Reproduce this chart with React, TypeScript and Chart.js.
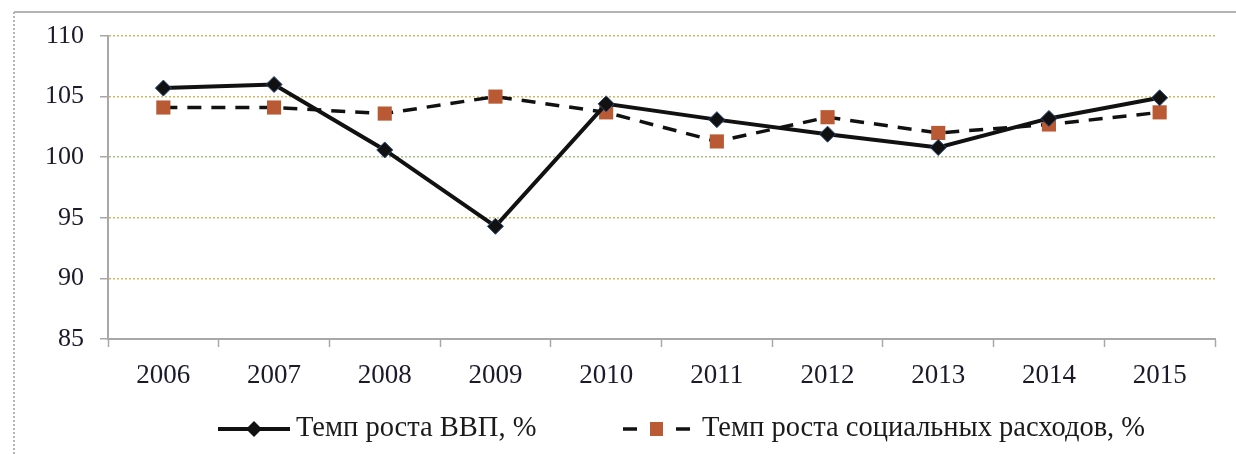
import React, { useEffect, useRef } from "react";
import { Chart, registerables } from "chart.js";

Chart.register(...registerables);

const categories = ["2006", "2007", "2008", "2009", "2010", "2011", "2012", "2013", "2014", "2015"];
const gdpGrowth = [105.7, 106.0, 100.6, 94.3, 104.4, 103.1, 101.9, 100.8, 103.2, 104.9];
const socialGrowth = [104.1, 104.1, 103.6, 105.0, 103.7, 101.3, 103.3, 102.0, 102.7, 103.7];
const gdpLabel = "Темп роста ВВП, %";
const socialLabel = "Темп роста социальных расходов, %";
const yMin = 85;
const yMax = 110;
const yStep = 5;

const FONT = "'Liberation Serif', serif";
const SQUARE = "#b95a35";

export default function App() {
  const ref = useRef<HTMLCanvasElement | null>(null);

  useEffect(() => {
    const canvas = ref.current;
    if (!canvas) return;
    let chart: any = null;
    let cancelled = false;

    const framePlugin = {
      id: "frame",
      beforeDraw(c: any) {
        const ctx = c.ctx;
        ctx.save();
        ctx.fillStyle = "#ffffff";
        ctx.fillRect(0, 0, c.width, c.height);
        ctx.strokeStyle = "#b4b4b4";
        ctx.lineWidth = 2;
        ctx.beginPath();
        ctx.moveTo(14, 12);
        ctx.lineTo(c.width, 12);
        ctx.stroke();
        ctx.setLineDash([2, 2]);
        ctx.beginPath();
        ctx.moveTo(14, 12);
        ctx.lineTo(14, c.height);
        ctx.stroke();
        ctx.restore();
      },
    };

    const legendPlugin = {
      id: "customLegend",
      afterDraw(c: any) {
        const ctx = c.ctx;
        const y = 429;
        ctx.save();
        ctx.strokeStyle = "#111111";
        ctx.lineWidth = 4;
        ctx.beginPath();
        ctx.moveTo(218, y);
        ctx.lineTo(290, y);
        ctx.stroke();
        ctx.fillStyle = "#111111";
        ctx.beginPath();
        ctx.moveTo(254 - 8, y);
        ctx.lineTo(254, y - 8);
        ctx.lineTo(254 + 8, y);
        ctx.lineTo(254, y + 8);
        ctx.closePath();
        ctx.fill();
        ctx.font = `28.5px ${FONT}`;
        ctx.textBaseline = "middle";
        ctx.textAlign = "left";
        ctx.fillStyle = "#1a1a1a";
        ctx.fillText(gdpLabel, 296, y);
        ctx.strokeStyle = "#111111";
        ctx.lineWidth = 3.5;
        ctx.beginPath();
        ctx.moveTo(623, y);
        ctx.lineTo(637, y);
        ctx.moveTo(676, y);
        ctx.lineTo(690, y);
        ctx.stroke();
        ctx.fillStyle = SQUARE;
        ctx.fillRect(650, y - 7, 13, 14);
        ctx.fillStyle = "#1a1a1a";
        ctx.fillText(socialLabel, 702, y);
        ctx.restore();
      },
    };

    const build = () => {
      if (cancelled) return;
      chart = new Chart(canvas, {
        type: "line",
        data: {
          labels: categories,
          datasets: [
            {
              label: socialLabel,
              data: socialGrowth,
              borderColor: "#111111",
              borderWidth: 3.5,
              borderDash: [14, 10],
              pointStyle: "rect",
              pointRadius: 10,
              pointBackgroundColor: SQUARE,
              pointBorderColor: SQUARE,
              pointBorderWidth: 0,
              tension: 0,
              order: 2,
            },
            {
              label: gdpLabel,
              data: gdpGrowth,
              borderColor: "#111111",
              borderWidth: 4,
              pointStyle: "rectRot",
              pointRadius: 8,
              pointBackgroundColor: "#111111",
              pointBorderColor: "#2a4a7a",
              pointBorderWidth: 1,
              tension: 0,
              order: 1,
            },
          ],
        },
        options: {
          animation: false,
          responsive: false,
          maintainAspectRatio: false,
          layout: { padding: { left: 0, right: 21, top: 36, bottom: 55 } },
          plugins: {
            legend: { display: false },
            tooltip: { enabled: false },
          },
          scales: {
            x: {
              offset: true,
              afterFit: (s: any) => {
                s.height = 60;
              },
              grid: {
                offset: true,
                drawOnChartArea: false,
                drawTicks: true,
                tickLength: 8,
                tickColor: "#a8a8a8",
                tickWidth: 1.5,
              },
              border: { display: true, color: "#a8a8a8", width: 2 },
              ticks: {
                color: "#1a1a2a",
                font: { family: FONT, size: 27 },
                padding: 13,
                maxRotation: 0,
              },
            },
            y: {
              min: yMin,
              max: yMax,
              afterFit: (s: any) => {
                s.width = 108;
              },
              grid: {
                color: (c: any) => {
                  const v = c.tick ? c.tick.value : null;
                  if (v === yMin) return "rgba(0,0,0,0)";
                  if (v === 100) return "#a9bf8e";
                  return "#d4b860";
                },
                lineWidth: 1.5,
                tickLength: 8,
                tickColor: "#a8a8a8",
                tickWidth: 1.5,
                tickBorderDash: [],
              },
              border: { display: true, color: "#a8a8a8", width: 2, dash: [2, 2] },
              ticks: {
                stepSize: yStep,
                color: "#1a1a2a",
                font: { family: FONT, size: 26 },
                padding: 16,
              },
            },
          },
        },
        plugins: [framePlugin, legendPlugin],
      });
    };

    const fonts = (document as any).fonts;
    if (fonts && fonts.load) {
      Promise.all([
        fonts.load(`27px "Liberation Serif"`, "Темп 2006"),
        fonts.load(`26px "Liberation Serif"`, "110"),
      ])
        .catch(() => null)
        .then(() => build());
    } else {
      build();
    }

    return () => {
      cancelled = true;
      if (chart) chart.destroy();
    };
  }, []);

  return (
    <div style={{ position: "fixed", left: 0, top: 0, width: 1236, height: 454 }}>
      <canvas ref={ref} width={1236} height={454} style={{ display: "block" }} />
    </div>
  );
}
